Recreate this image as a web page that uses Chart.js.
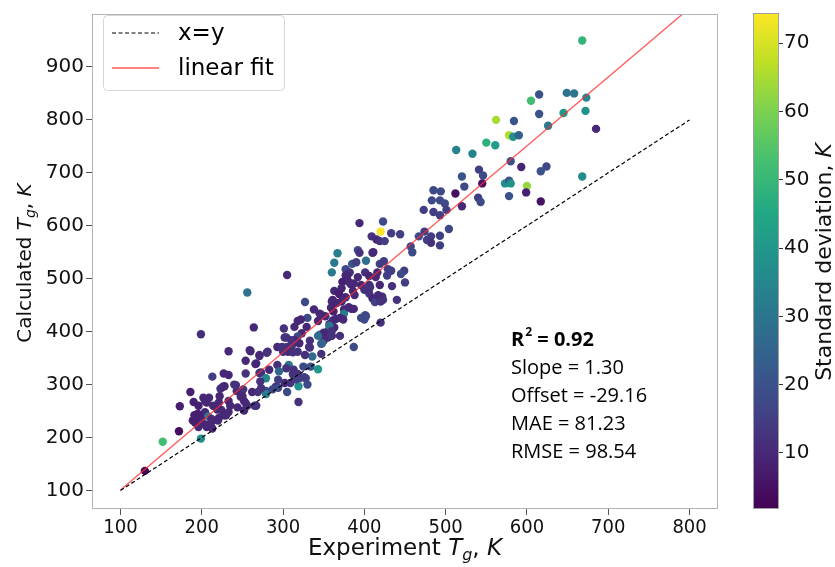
<!DOCTYPE html>
<html>
<head>
<meta charset="utf-8">
<script src="https://cdn.jsdelivr.net/npm/chart.js@4.4.1/dist/chart.umd.min.js"></script>
<style>
    html, body { margin: 0; padding: 0; background: #fff; }
    #wrap { position: relative; width: 835px; height: 567px; }
    #chart { position: absolute; left: 0; top: 0; }
    #cbar { position: absolute; left: 740px; top: 0; }
</style>
</head>
<body>
<div id="wrap">
    <canvas id="chart" width="835" height="567"></canvas>
    <canvas id="cbar" width="95" height="567"></canvas>
</div>
<script>
// experimental Tg (K), 10 per row
const expTg = [
    668, 615, 649, 658, 673, 605, 615, 645, 672, 685,
    626, 562, 584, 578, 583, 590, 550, 561, 513, 533,
    580, 593, 541, 546, 520, 624, 617, 668, 600, 573,
    578, 580, 545, 523, 512, 485, 494, 578, 599, 617,
    483, 493, 499, 540, 543, 520, 473, 485, 493, 501,
    504, 493, 482, 474, 467, 477, 482, 493, 457, 459,
    394, 423, 420, 409, 415, 419, 425, 433, 444, 367,
    392, 394, 411, 363, 360, 377, 385, 390, 402, 419,
    424, 382, 401, 416, 433, 449, 445, 377, 392, 406,
    414, 428, 373, 381, 387, 396, 406, 419, 434, 450,
    363, 372, 386, 400, 406, 369, 377, 388, 410, 422,
    423, 440, 413, 361, 366, 372, 327, 359, 362, 375,
    384, 387, 338, 345, 375, 352, 370, 374, 396, 402,
    400, 420, 330, 361, 343, 318, 314, 329, 357, 363,
    301, 264, 199, 256, 305, 323, 345, 350, 356, 360,
    318, 304, 314, 347, 350, 355, 333, 387, 293, 299,
    311, 318, 306, 332, 336, 327, 233, 260, 281, 271,
    254, 267, 307, 293, 304, 313, 325, 334, 343, 283,
    295, 273, 254, 233, 227, 213, 279, 272, 313, 320,
    328, 302, 309, 330, 319, 291, 294, 287, 279, 262,
    251, 240, 228, 223, 243, 279, 305, 319, 250, 252,
    267, 252, 233, 235, 222, 221, 209, 204, 186, 190,
    173, 214, 219, 204, 195, 208, 199, 189, 192, 213,
    221, 228, 233, 211, 206, 196, 213, 172, 152, 199,
    130, 265, 202, 226, 242, 248, 269, 206, 196, 191,
    197, 212, 220, 193, 201, 207, 230, 244, 256, 224,
    347, 322, 302, 310, 320, 305, 333, 300, 312, 259,
    271, 280, 266, 312, 318, 271, 294, 316, 326, 273,
    254, 360, 365, 381, 357, 360, 343, 348, 347, 359,
    370, 401, 421, 410, 429, 379, 383, 407, 417, 420
]
// calculated Tg (K)
const calcTg = [
    950, 848, 851, 850, 842, 836, 811, 813, 817, 783,
    789, 800, 798, 771, 768, 771, 757, 752, 743, 736,
    722, 711, 706, 695, 693, 712, 703, 693, 675, 680,
    685, 680, 680, 674, 661, 667, 665, 656, 663, 646,
    648, 648, 642, 653, 645, 637, 630, 626, 620, 630,
    594, 581, 580, 589, 580, 573, 568, 563, 561, 550,
    605, 608, 589, 580, 574, 571, 571, 586, 584, 548,
    554, 549, 550, 530, 512, 518, 528, 531, 534, 528,
    533, 512, 512, 512, 515, 515, 509, 506, 503, 505,
    503, 506, 494, 494, 491, 488, 488, 488, 486, 493,
    477, 482, 477, 479, 472, 471, 465, 469, 463, 466,
    460, 460, 456, 460, 454, 457, 456, 445, 438, 442,
    443, 443, 442, 434, 434, 429, 426, 423, 426, 429,
    423, 417, 426, 421, 420, 420, 409, 409, 414, 408,
    406, 408, 395, 474, 507, 397, 394, 398, 402, 392,
    391, 389, 384, 377, 383, 389, 383, 371, 371, 371,
    374, 362, 362, 371, 353, 356, 363, 363, 362, 356,
    345, 340, 337, 337, 331, 328, 334, 334, 329, 328,
    325, 323, 321, 318, 321, 315, 312, 306, 317, 312,
    312, 303, 303, 300, 297, 296, 294, 291, 288, 286,
    291, 300, 297, 292, 288, 282, 286, 267, 278, 269,
    260, 251, 269, 260, 278, 266, 275, 269, 286, 267,
    259, 260, 253, 248, 245, 240, 235, 232, 228, 232,
    237, 242, 248, 223, 220, 220, 217, 212, 192, 198,
    137, 260, 275, 296, 299, 277, 286, 266, 260, 242,
    239, 235, 232, 230, 227, 224, 242, 257, 260, 252,
    432, 423, 389, 384, 378, 371, 370, 362, 361, 365,
    354, 360, 339, 320, 320, 322, 309, 310, 314, 293,
    265, 457, 424, 446, 411, 401, 392, 378, 358, 392,
    392, 431, 463, 549, 518, 505, 490, 484, 469, 457
]
// standard deviation (K), colour of each point
const stdDev = [
    49, 20, 30, 30, 35, 52, 20, 40, 38, 10,
    31, 65, 20, 66, 38, 24, 48, 42, 34, 34,
    20, 9, 15, 18, 20, 18, 20, 37, 63, 38,
    20, 38, 6, 18, 5, 18, 18, 20, 8, 5,
    18, 18, 18, 15, 18, 10, 15, 15, 15, 15,
    18, 15, 15, 15, 18, 15, 12, 15, 18, 18,
    10, 18, 74, 12, 10, 12, 15, 15, 15, 33,
    18, 12, 10, 31, 31, 18, 20, 15, 28, 15,
    15, 12, 12, 10, 15, 15, 18, 10, 10, 10,
    10, 15, 8, 10, 10, 10, 12, 10, 12, 15,
    10, 10, 10, 12, 12, 8, 10, 10, 10, 12,
    15, 12, 15, 10, 10, 10, 18, 10, 8, 10,
    10, 10, 10, 10, 32, 10, 10, 10, 18, 18,
    18, 12, 18, 12, 10, 10, 10, 10, 10, 10,
    12, 10, 11, 29, 10, 10, 27, 10, 10, 10,
    18, 12, 10, 15, 12, 10, 12, 18, 10, 12,
    12, 12, 10, 12, 27, 12, 10, 10, 10, 12,
    10, 10, 30, 12, 12, 12, 18, 20, 40, 10,
    26, 12, 12, 10, 10, 15, 35, 12, 10, 18,
    18, 10, 12, 18, 38, 12, 18, 18, 18, 10,
    12, 12, 10, 12, 10, 33, 18, 12, 10, 10,
    10, 10, 10, 10, 10, 10, 10, 10, 8, 8,
    8, 10, 10, 10, 8, 31, 10, 8, 8, 10,
    10, 10, 10, 10, 10, 10, 10, 4, 52, 37,
    3, 12, 10, 10, 12, 10, 12, 10, 8, 8,
    8, 10, 10, 8, 10, 10, 10, 10, 12, 10,
    10, 10, 12, 12, 10, 12, 12, 12, 12, 10,
    10, 12, 10, 12, 12, 12, 15, 15, 15, 12,
    10, 10, 10, 10, 30, 12, 28, 25, 12, 12,
    12, 18, 12, 10, 15, 10, 10, 12, 10, 12
]

// reference lines (end points)
const identityX = [100, 800]
const identityY = [100, 800]
const fitX = [100, 800]
const fitY = [101, 1011]

const xTicks = [100, 200, 300, 400, 500, 600, 700, 800]
const yTicks = [100, 200, 300, 400, 500, 600, 700, 800, 900]
const cbTicks = [10, 20, 30, 40, 50, 60, 70]
const cbMin = 1.8
const cbMax = 74.4

const statLines = ['Slope = 1.30', 'Offset = -29.16', 'MAE = 81.23', 'RMSE = 98.54']

const viridisStops = ['#440154', '#482475', '#414487', '#355f8d', '#2a788e', '#21918c',
    '#22a884', '#44bf70', '#7ad151', '#bddf26', '#fde725']

function hexRgb(h) {
    return [parseInt(h.slice(1, 3), 16), parseInt(h.slice(3, 5), 16), parseInt(h.slice(5, 7), 16)]
}
function viridis(v) {
    let t = (v - cbMin) / (cbMax - cbMin)
    t = Math.max(0, Math.min(1, t)) * 10
    const i = Math.min(9, Math.floor(t))
    const f = t - i
    const a = hexRgb(viridisStops[i]), b = hexRgb(viridisStops[i + 1])
    const c = a.map((x, k) => Math.round(x + (b[k] - x) * f))
    return `rgb(${c[0]},${c[1]},${c[2]})`
}

// draws text made of runs (italic T, subscript g ...) centred on x=0 at baseline y=0
function drawRuns(ctx, runs) {
    let w = 0
    runs.forEach(r => { ctx.font = r.font; r.w = ctx.measureText(r.t).width; w += r.w })
    let x = -w / 2
    ctx.textAlign = 'left'
    ctx.textBaseline = 'alphabetic'
    runs.forEach(r => {
        ctx.font = r.font
        ctx.fillText(r.t, x, r.dy || 0)
        x += r.w
    })
}
function tgRuns(first, size) {
    const fam = '"DejaVu Sans"'
    return [
        { t: first, font: `${size}px ${fam}` },
        { t: 'T', font: `italic ${size}px ${fam}` },
        { t: 'g', font: `italic ${Math.round(size * 0.7)}px ${fam}`, dy: size * 0.22 },
        { t: ', ', font: `${size}px ${fam}` },
        { t: 'K', font: `italic ${size}px ${fam}` }
    ]
}

const decor = {
    id: 'decor',
    afterDraw(chart) {
        const ctx = chart.ctx
        const a = chart.chartArea
        ctx.save()
        // frame
        ctx.strokeStyle = '#b4b4b4'
        ctx.lineWidth = 1
        ctx.strokeRect(a.left + 0.5, a.top + 0.5, a.right - a.left - 1, a.bottom - a.top - 1)

        // legend box
        const ds = chart.data.datasets
        ctx.beginPath()
        ctx.roundRect(103.5, 15.5, 181, 75, 4)
        ctx.fillStyle = 'rgba(255,255,255,0.85)'
        ctx.fill()
        ctx.strokeStyle = '#d6d6d6'
        ctx.stroke()
        ;[0, 1].forEach((k, i) => {
            const y = 33 + i * 35
            ctx.beginPath()
            ctx.setLineDash(ds[k].borderDash || [])
            ctx.strokeStyle = ds[k].borderColor
            ctx.lineWidth = ds[k].borderWidth
            ctx.moveTo(112, y)
            ctx.lineTo(159, y)
            ctx.stroke()
            ctx.setLineDash([])
            ctx.fillStyle = '#000'
            ctx.font = '23px "DejaVu Sans"'
            ctx.textAlign = 'left'
            ctx.textBaseline = 'middle'
            ctx.fillText(ds[k].label, 178, y + 1)
        })

        // statistics
        ctx.fillStyle = '#000'
        ctx.textAlign = 'left'
        ctx.textBaseline = 'middle'
        ctx.font = 'bold 20px "Open Sans"'
        ctx.fillText('R', 511, 340)
        let x = 511 + ctx.measureText('R').width + 1
        ctx.font = 'bold 12px "Open Sans"'
        ctx.fillText('2', x, 333)
        x += ctx.measureText('2').width
        ctx.font = 'bold 20px "Open Sans"'
        ctx.fillText(' = 0.92', x, 340)
        ctx.font = '20px "Open Sans"'
        statLines.forEach((s, i) => ctx.fillText(s, 511, 368 + i * 28.2))

        // axis titles
        ctx.fillStyle = '#111'
        ctx.save()
        ctx.translate((a.left + a.right) / 2, 555)
        drawRuns(ctx, tgRuns('Experiment ', 23))
        ctx.restore()
        ctx.save()
        ctx.translate(31, 263)
        ctx.rotate(-Math.PI / 2)
        drawRuns(ctx, tgRuns('Calculated ', 20))
        ctx.restore()
        ctx.restore()
    }
}

const tickFont = { family: '"DejaVu Sans"', size: 20 }

new Chart(document.getElementById('chart'), {
    type: 'scatter',
    data: {
        datasets: [
            {
                label: 'x=y', type: 'line',
                data: identityX.map((x, i) => ({ x: x, y: identityY[i] })),
                borderColor: '#000', borderWidth: 1.2, borderDash: [4, 2.5], pointRadius: 0
            },
            {
                label: 'linear fit', type: 'line',
                data: fitX.map((x, i) => ({ x: x, y: fitY[i] })),
                borderColor: 'rgba(255,45,45,0.8)', borderWidth: 1.3, pointRadius: 0
            },
            {
                label: 'Tg',
                data: expTg.map((x, i) => ({ x: x, y: calcTg[i] })),
                backgroundColor: stdDev.map(viridis),
                pointRadius: 4.2, pointHoverRadius: 4.2, borderWidth: 0
            }
        ]
    },
    options: {
        responsive: false,
        animation: false,
        layout: { padding: { left: 42, right: 117, top: 3, bottom: 28 } },
        plugins: { legend: { display: false }, tooltip: { enabled: false } },
        scales: {
            x: {
                type: 'linear', min: 65, max: 835,
                afterBuildTicks: s => { s.ticks = xTicks.map(v => ({ value: v })) },
                afterFit: s => { s.height = 30 },
                grid: { drawOnChartArea: false, tickLength: 6, color: '#555' },
                border: { display: false },
                ticks: { font: { family: '"DejaVu Sans Condensed", "DejaVu Sans"', size: 20 }, color: '#111', padding: 1, maxRotation: 0 }
            },
            y: {
                type: 'linear', min: 65, max: 1000,
                afterBuildTicks: s => { s.ticks = yTicks.map(v => ({ value: v })) },
                afterFit: s => { s.width = 50 },
                grid: { drawOnChartArea: false, tickLength: 6, color: '#555' },
                border: { display: false },
                ticks: { font: tickFont, color: '#111', padding: 2 }
            }
        }
    },
    plugins: [decor]
})

const cbFill = {
    id: 'cbFill',
    beforeDatasetsDraw(chart) {
        const ctx = chart.ctx
        const a = chart.chartArea
        const g = ctx.createLinearGradient(0, a.bottom, 0, a.top)
        viridisStops.forEach((c, i) => g.addColorStop(i / 10, c))
        ctx.save()
        ctx.fillStyle = g
        ctx.fillRect(a.left, a.top, a.right - a.left, a.bottom - a.top)
        ctx.strokeStyle = '#a0a0a0'
        ctx.lineWidth = 1
        ctx.strokeRect(a.left + 0.5, a.top + 0.5, a.right - a.left - 1, a.bottom - a.top - 1)
        // colour bar title, reading upward
        ctx.fillStyle = '#111'
        ctx.translate(831, 0)
        ctx.translate(-740, 262)
        ctx.rotate(-Math.PI / 2)
        drawRuns(ctx, [
            { t: 'Standard deviation, ', font: '22px "DejaVu Sans"' },
            { t: 'K', font: 'italic 22px "DejaVu Sans"' }
        ])
        ctx.restore()
    }
}

new Chart(document.getElementById('cbar'), {
    type: 'scatter',
    data: { datasets: [] },
    options: {
        responsive: false,
        animation: false,
        layout: { padding: { left: 13, right: 23, top: 3, bottom: 58 } },
        plugins: { legend: { display: false }, tooltip: { enabled: false } },
        scales: {
            x: { display: false, min: 0, max: 1 },
            y: {
                position: 'right', min: cbMin, max: cbMax,
                afterBuildTicks: s => { s.ticks = cbTicks.map(v => ({ value: v })) },
                afterFit: s => { s.width = 33 },
                grid: { drawOnChartArea: false, tickLength: 4, color: '#333' },
                border: { display: false },
                ticks: { font: tickFont, color: '#111', padding: 1 }
            }
        }
    },
    plugins: [cbFill]
})
</script>
</body>
</html>
